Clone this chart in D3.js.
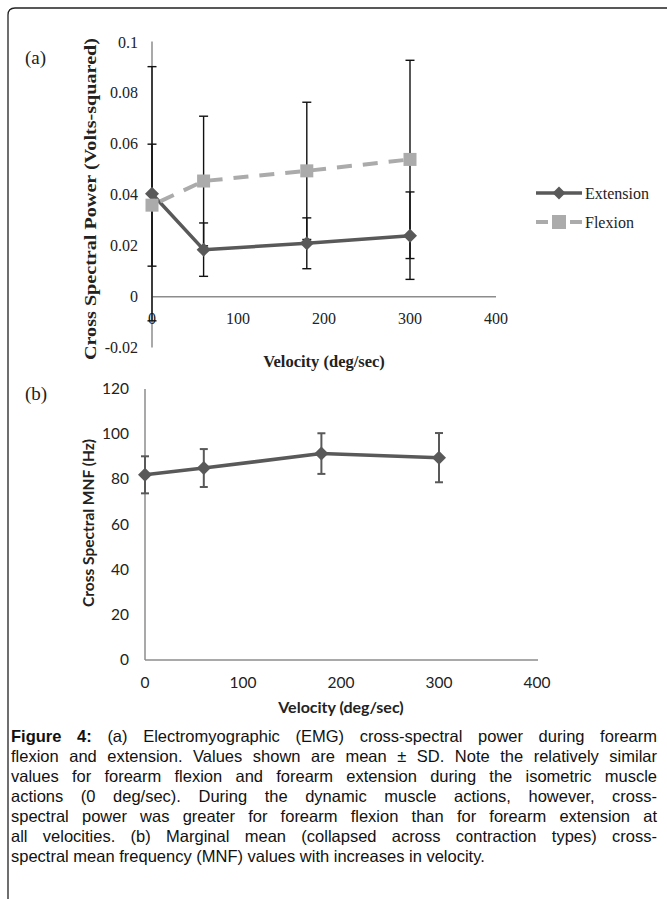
<!DOCTYPE html>
<html>
<head>
<meta charset="utf-8">
<script src="https://cdn.jsdelivr.net/npm/d3@7"></script>
<style>
  html, body { margin: 0; padding: 0; background: #fff; overflow: hidden; }
  svg { display: block; }
</style>
</head>
<body>
<script>
// ---------- DATA ----------
const velocities = [0, 60, 180, 300];
const extensionMean = [0.0405, 0.0185, 0.021, 0.024];
const extensionSD = [0.050, 0.0105, 0.010, 0.0172];
const flexionMean = [0.036, 0.0455, 0.0495, 0.054];
const flexionSD = [0.024, 0.0255, 0.027, 0.039];
const mnfMean = [82, 85, 91.4, 89.6];
const mnfSD = [8.2, 8.4, 9.0, 10.9];
const powerTicks = [-0.02, 0, 0.02, 0.04, 0.06, 0.08, 0.1];
const powerTickLabels = ["-0.02", "0", "0.02", "0.04", "0.06", "0.08", "0.1"];
const velocityTicks = [0, 100, 200, 300, 400];
const mnfTicks = [0, 20, 40, 60, 80, 100, 120];
const seriesNames = ["Extension", "Flexion"];
const captionBold = "Figure 4:";
const captionLines = [
  " (a) Electromyographic (EMG) cross-spectral power during forearm",
  "flexion and extension. Values shown are mean \u00B1 SD. Note the relatively similar",
  "values for forearm flexion and forearm extension during the isometric muscle",
  "actions (0 deg/sec). During the dynamic muscle actions, however, cross-",
  "spectral power was greater for forearm flexion than for forearm extension at",
  "all velocities. (b) Marginal mean (collapsed across contraction types) cross-",
  "spectral mean frequency (MNF) values with increases in velocity."
];

// ---------- SETUP ----------
const W = 667, H = 899;
const svg = d3.select("body").append("svg").attr("width", W).attr("height", H);
const serif = "'Liberation Serif', 'Times New Roman', serif";
const sans = "Lato, 'Open Sans', sans-serif";
const darkGray = "#595959", lightGray = "#ababab", axisGray = "#8c8c8c";

// frame
svg.append("path")
  .attr("d", "M8,899 V15 Q8,8 15,8 H667")
  .attr("fill", "none").attr("stroke", "#222").attr("stroke-width", 1.3);

// ---------- PANEL A ----------
const xA = d3.scaleLinear().domain([0, 400]).range([152, 496]);
const yA = d3.scaleLinear().domain([-0.02, 0.1]).range([347.5, 42.5]);
const gA = svg.append("g");

gA.append("line").attr("x1", xA(0)).attr("x2", xA(0)).attr("y1", yA(0.1) - 1).attr("y2", yA(-0.02))
  .attr("stroke", axisGray).attr("stroke-width", 1.5);
gA.append("line").attr("x1", xA(0)).attr("x2", xA(400)).attr("y1", yA(0)).attr("y2", yA(0))
  .attr("stroke", axisGray).attr("stroke-width", 1.5);

gA.selectAll("text.yt").data(powerTicks).enter().append("text")
  .attr("x", 138).attr("y", d => yA(d) + 5)
  .attr("text-anchor", "end").attr("font-family", serif).attr("font-size", 16).attr("fill", "#222")
  .text((d, i) => powerTickLabels[i]);
gA.selectAll("text.xt").data(velocityTicks).enter().append("text")
  .attr("x", d => xA(d)).attr("y", 324)
  .attr("text-anchor", "middle").attr("font-family", serif).attr("font-size", 16).attr("fill", "#222")
  .text(d => d);

gA.append("text").attr("transform", "translate(96,199) rotate(-90)")
  .attr("text-anchor", "middle").attr("font-family", serif).attr("font-weight", "bold")
  .attr("font-size", 17.5).attr("fill", "#222")
  .attr("textLength", 322).attr("lengthAdjust", "spacingAndGlyphs")
  .text("Cross Spectral Power (Volts-squared)");
gA.append("text").attr("x", 324).attr("y", 367)
  .attr("text-anchor", "middle").attr("font-family", serif).attr("font-weight", "bold")
  .attr("font-size", 16.5).attr("fill", "#222").text("Velocity (deg/sec)");
svg.append("text").attr("x", 25).attr("y", 64).attr("font-family", serif).attr("font-size", 19)
  .attr("fill", "#222").text("(a)");

function errorBars(g, xs, ys, means, sds, color, width, cap) {
  const data = means.map((m, i) => ({ x: xs(velocities[i]), lo: ys(m - sds[i]), hi: ys(m + sds[i]) }));
  const eb = g.append("g").attr("stroke", color).attr("stroke-width", width);
  data.forEach(d => {
    eb.append("line").attr("x1", d.x).attr("x2", d.x).attr("y1", d.lo).attr("y2", d.hi);
    eb.append("line").attr("x1", d.x - cap).attr("x2", d.x + cap).attr("y1", d.lo).attr("y2", d.lo);
    eb.append("line").attr("x1", d.x - cap).attr("x2", d.x + cap).attr("y1", d.hi).attr("y2", d.hi);
  });
}
errorBars(gA, xA, yA, extensionMean, extensionSD, "#111", 1.4, 4.5);
errorBars(gA, xA, yA, flexionMean, flexionSD, "#111", 1.4, 4.5);

function drawDiamond(g, x, y, size, color) {
  const s = size / 2;
  g.append("path").attr("d", `M${x},${y - s} L${x + s},${y} L${x},${y + s} L${x - s},${y} Z`).attr("fill", color);
}

const lineA = d3.line().x((d, i) => xA(velocities[i])).y(d => yA(d));
gA.append("path").datum(extensionMean).attr("d", lineA)
  .attr("fill", "none").attr("stroke", darkGray).attr("stroke-width", 3.5).attr("stroke-linejoin", "round");
extensionMean.forEach((m, i) => drawDiamond(gA, xA(velocities[i]), yA(m), 14, darkGray));

gA.append("path").datum(flexionMean).attr("d", lineA)
  .attr("fill", "none").attr("stroke", lightGray).attr("stroke-width", 4)
  .attr("stroke-dasharray", "15,11").attr("stroke-dashoffset", -9);
flexionMean.forEach((m, i) => {
  gA.append("rect").attr("x", xA(velocities[i]) - 6.5).attr("y", yA(m) - 6.5)
    .attr("width", 13).attr("height", 13).attr("fill", lightGray);
});

// legend
const leg = svg.append("g");
leg.append("line").attr("x1", 536).attr("x2", 582).attr("y1", 193).attr("y2", 193)
  .attr("stroke", darkGray).attr("stroke-width", 3.5);
drawDiamond(leg, 559, 193, 13, darkGray);
leg.append("text").attr("x", 585).attr("y", 199).attr("font-family", serif).attr("font-size", 16)
  .attr("fill", "#222").text(seriesNames[0]);
leg.append("line").attr("x1", 536).attr("x2", 548).attr("y1", 222).attr("y2", 222)
  .attr("stroke", lightGray).attr("stroke-width", 4);
leg.append("line").attr("x1", 570).attr("x2", 582).attr("y1", 222).attr("y2", 222)
  .attr("stroke", lightGray).attr("stroke-width", 4);
leg.append("rect").attr("x", 552).attr("y", 215).attr("width", 14).attr("height", 14).attr("fill", lightGray);
leg.append("text").attr("x", 585).attr("y", 228).attr("font-family", serif).attr("font-size", 16)
  .attr("fill", "#222").text(seriesNames[1]);

// ---------- PANEL B ----------
const xB = d3.scaleLinear().domain([0, 400]).range([145, 537]);
const yB = d3.scaleLinear().domain([0, 120]).range([660, 389]);
const gB = svg.append("g");

gB.append("line").attr("x1", xB(0)).attr("x2", xB(0)).attr("y1", yB(120)).attr("y2", yB(0))
  .attr("stroke", axisGray).attr("stroke-width", 1.5);
gB.append("line").attr("x1", xB(0)).attr("x2", xB(400) + 1).attr("y1", yB(0)).attr("y2", yB(0))
  .attr("stroke", axisGray).attr("stroke-width", 1.5);

gB.selectAll("text.yt").data(mnfTicks).enter().append("text")
  .attr("x", 129).attr("y", d => yB(d) + 5)
  .attr("text-anchor", "end").attr("font-family", sans).attr("font-size", 15.5).attr("fill", "#222")
  .text(d => d);
gB.selectAll("text.xt").data(velocityTicks).enter().append("text")
  .attr("x", d => xB(d)).attr("y", 688)
  .attr("text-anchor", "middle").attr("font-family", sans).attr("font-size", 15.5).attr("fill", "#222")
  .text(d => d);

gB.append("text").attr("transform", "translate(94,523) rotate(-90)")
  .attr("text-anchor", "middle").attr("font-family", sans).attr("font-weight", "bold")
  .attr("font-size", 15.5).attr("fill", "#222").text("Cross Spectral MNF (Hz)");
gB.append("text").attr("x", 341).attr("y", 713)
  .attr("text-anchor", "middle").attr("font-family", sans).attr("font-weight", "bold")
  .attr("font-size", 16).attr("fill", "#222").text("Velocity (deg/sec)");
svg.append("text").attr("x", 25).attr("y", 400).attr("font-family", serif).attr("font-size", 19)
  .attr("fill", "#222").text("(b)");

errorBars(gB, xB, yB, mnfMean, mnfSD, darkGray, 2, 4);
const lineB = d3.line().x((d, i) => xB(velocities[i])).y(d => yB(d));
gB.append("path").datum(mnfMean).attr("d", lineB)
  .attr("fill", "none").attr("stroke", darkGray).attr("stroke-width", 3.5).attr("stroke-linejoin", "round");
mnfMean.forEach((m, i) => drawDiamond(gB, xB(velocities[i]), yB(m), 14, darkGray));

// ---------- CAPTION ----------
const capFont = "'Liberation Sans', Arial, sans-serif";
const capX = 11, capRight = 657, capY0 = 742, capLH = 20;
captionLines.forEach((line, i) => {
  const t = svg.append("text").attr("x", capX).attr("y", capY0 + i * capLH)
    .attr("font-family", capFont).attr("font-size", 16.5).attr("fill", "#111")
    .style("white-space", "pre");
  if (i === 0) t.append("tspan").attr("font-weight", "bold").text(captionBold);
  t.append("tspan").text(line);
  if (i < captionLines.length - 1) {
    const target = capRight - capX;
    const nat = t.node().getComputedTextLength();
    const full = (i === 0 ? captionBold : "") + line;
    const spaces = (full.match(/ /g) || []).length;
    if (nat < target) {
      t.attr("word-spacing", (target - nat) / Math.max(spaces, 1));
    } else {
      t.attr("textLength", target).attr("lengthAdjust", "spacingAndGlyphs");
    }
  }
});
</script>
</body>
</html>
